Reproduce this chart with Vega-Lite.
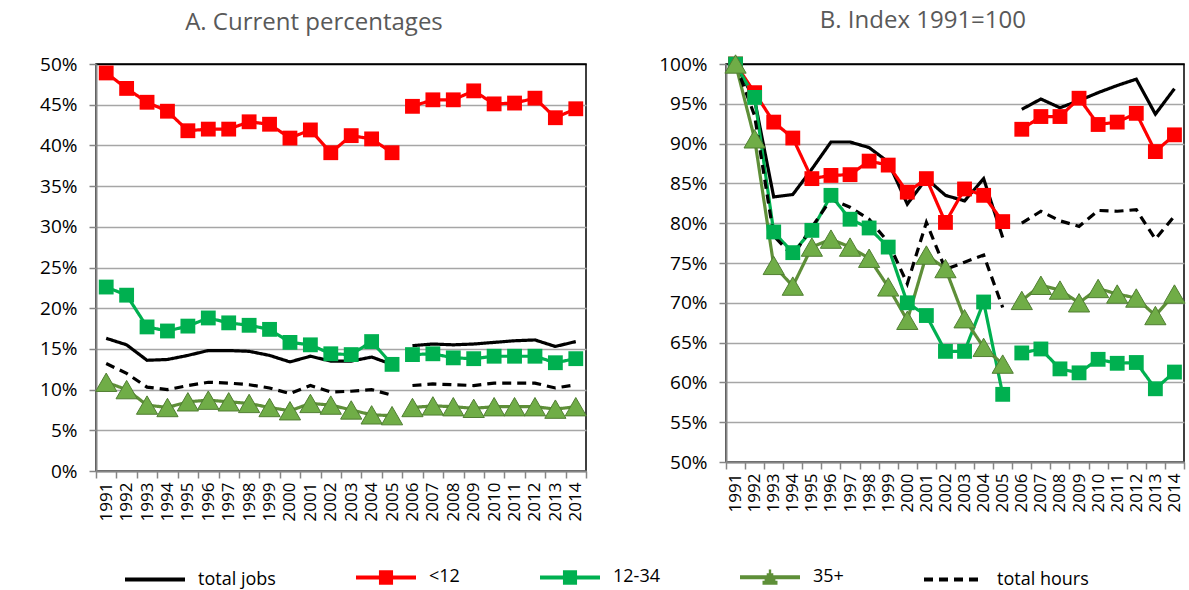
{
"$schema": "https://vega.github.io/schema/vega-lite/v6.json",
"background": "white",
"padding": {"left": 38, "top": 8, "right": 0, "bottom": 0},
"config": {
  "font": "Open Sans",
  "view": {"stroke": "black", "strokeWidth": 1.5},
  "title": {"fontSize": 24, "fontWeight": "normal", "color": "#595959", "offset": 20, "frame": "bounds", "anchor": "middle"},
  "axis": {"labelColor": "#000000", "title": null, "domainColor": "#868686", "domainWidth": 2, "tickColor": "#868686", "tickWidth": 1.5, "tickSize": 7},
  "legend": {"labelFontSize": 18, "labelColor": "#000000", "layout": {"bottom": {"anchor": "middle"}}}
},
"spacing": 67,
"datasets": {
"A": [
{"s":"total jobs","y":"1991","g":1,"v":16.3},{"s":"total jobs","y":"1992","g":1,"v":15.5},{"s":"total jobs","y":"1993","g":1,"v":13.6},{"s":"total jobs","y":"1994","g":1,"v":13.7},{"s":"total jobs","y":"1995","g":1,"v":14.2},{"s":"total jobs","y":"1996","g":1,"v":14.8},{"s":"total jobs","y":"1997","g":1,"v":14.8},{"s":"total jobs","y":"1998","g":1,"v":14.7},{"s":"total jobs","y":"1999","g":1,"v":14.2},{"s":"total jobs","y":"2000","g":1,"v":13.4},{"s":"total jobs","y":"2001","g":1,"v":14.1},{"s":"total jobs","y":"2002","g":1,"v":13.5},{"s":"total jobs","y":"2003","g":1,"v":13.5},{"s":"total jobs","y":"2004","g":1,"v":14.0},{"s":"total jobs","y":"2005","g":1,"v":13.1},{"s":"total jobs","y":"2006","g":2,"v":15.4},{"s":"total jobs","y":"2007","g":2,"v":15.6},{"s":"total jobs","y":"2008","g":2,"v":15.5},{"s":"total jobs","y":"2009","g":2,"v":15.6},{"s":"total jobs","y":"2010","g":2,"v":15.8},{"s":"total jobs","y":"2011","g":2,"v":16.0},{"s":"total jobs","y":"2012","g":2,"v":16.1},{"s":"total jobs","y":"2013","g":2,"v":15.3},{"s":"total jobs","y":"2014","g":2,"v":15.9},
{"s":"<12","y":"1991","g":1,"v":48.9},{"s":"<12","y":"1992","g":1,"v":47.0},{"s":"<12","y":"1993","g":1,"v":45.3},{"s":"<12","y":"1994","g":1,"v":44.2},{"s":"<12","y":"1995","g":1,"v":41.8},{"s":"<12","y":"1996","g":1,"v":42.0},{"s":"<12","y":"1997","g":1,"v":42.0},{"s":"<12","y":"1998","g":1,"v":42.9},{"s":"<12","y":"1999","g":1,"v":42.6},{"s":"<12","y":"2000","g":1,"v":40.9},{"s":"<12","y":"2001","g":1,"v":41.9},{"s":"<12","y":"2002","g":1,"v":39.1},{"s":"<12","y":"2003","g":1,"v":41.2},{"s":"<12","y":"2004","g":1,"v":40.8},{"s":"<12","y":"2005","g":1,"v":39.1},{"s":"<12","y":"2006","g":2,"v":44.8},{"s":"<12","y":"2007","g":2,"v":45.6},{"s":"<12","y":"2008","g":2,"v":45.6},{"s":"<12","y":"2009","g":2,"v":46.7},{"s":"<12","y":"2010","g":2,"v":45.1},{"s":"<12","y":"2011","g":2,"v":45.2},{"s":"<12","y":"2012","g":2,"v":45.8},{"s":"<12","y":"2013","g":2,"v":43.4},{"s":"<12","y":"2014","g":2,"v":44.5},
{"s":"12-34","y":"1991","g":1,"v":22.6},{"s":"12-34","y":"1992","g":1,"v":21.6},{"s":"12-34","y":"1993","g":1,"v":17.7},{"s":"12-34","y":"1994","g":1,"v":17.2},{"s":"12-34","y":"1995","g":1,"v":17.8},{"s":"12-34","y":"1996","g":1,"v":18.8},{"s":"12-34","y":"1997","g":1,"v":18.2},{"s":"12-34","y":"1998","g":1,"v":17.9},{"s":"12-34","y":"1999","g":1,"v":17.4},{"s":"12-34","y":"2000","g":1,"v":15.8},{"s":"12-34","y":"2001","g":1,"v":15.5},{"s":"12-34","y":"2002","g":1,"v":14.4},{"s":"12-34","y":"2003","g":1,"v":14.3},{"s":"12-34","y":"2004","g":1,"v":15.9},{"s":"12-34","y":"2005","g":1,"v":13.1},{"s":"12-34","y":"2006","g":2,"v":14.3},{"s":"12-34","y":"2007","g":2,"v":14.4},{"s":"12-34","y":"2008","g":2,"v":13.9},{"s":"12-34","y":"2009","g":2,"v":13.8},{"s":"12-34","y":"2010","g":2,"v":14.1},{"s":"12-34","y":"2011","g":2,"v":14.1},{"s":"12-34","y":"2012","g":2,"v":14.1},{"s":"12-34","y":"2013","g":2,"v":13.3},{"s":"12-34","y":"2014","g":2,"v":13.8},
{"s":"35+","y":"1991","g":1,"v":10.9},{"s":"35+","y":"1992","g":1,"v":10.0},{"s":"35+","y":"1993","g":1,"v":8.1},{"s":"35+","y":"1994","g":1,"v":7.8},{"s":"35+","y":"1995","g":1,"v":8.5},{"s":"35+","y":"1996","g":1,"v":8.7},{"s":"35+","y":"1997","g":1,"v":8.5},{"s":"35+","y":"1998","g":1,"v":8.3},{"s":"35+","y":"1999","g":1,"v":7.8},{"s":"35+","y":"2000","g":1,"v":7.4},{"s":"35+","y":"2001","g":1,"v":8.3},{"s":"35+","y":"2002","g":1,"v":8.1},{"s":"35+","y":"2003","g":1,"v":7.5},{"s":"35+","y":"2004","g":1,"v":6.9},{"s":"35+","y":"2005","g":1,"v":6.8},{"s":"35+","y":"2006","g":2,"v":7.8},{"s":"35+","y":"2007","g":2,"v":8.0},{"s":"35+","y":"2008","g":2,"v":7.9},{"s":"35+","y":"2009","g":2,"v":7.7},{"s":"35+","y":"2010","g":2,"v":7.9},{"s":"35+","y":"2011","g":2,"v":7.9},{"s":"35+","y":"2012","g":2,"v":7.9},{"s":"35+","y":"2013","g":2,"v":7.6},{"s":"35+","y":"2014","g":2,"v":7.9},
{"s":"total hours","y":"1991","g":1,"v":13.2},{"s":"total hours","y":"1992","g":1,"v":12.0},{"s":"total hours","y":"1993","g":1,"v":10.3},{"s":"total hours","y":"1994","g":1,"v":10.0},{"s":"total hours","y":"1995","g":1,"v":10.5},{"s":"total hours","y":"1996","g":1,"v":10.9},{"s":"total hours","y":"1997","g":1,"v":10.8},{"s":"total hours","y":"1998","g":1,"v":10.6},{"s":"total hours","y":"1999","g":1,"v":10.2},{"s":"total hours","y":"2000","g":1,"v":9.5},{"s":"total hours","y":"2001","g":1,"v":10.5},{"s":"total hours","y":"2002","g":1,"v":9.7},{"s":"total hours","y":"2003","g":1,"v":9.8},{"s":"total hours","y":"2004","g":1,"v":10.0},{"s":"total hours","y":"2005","g":1,"v":9.3},{"s":"total hours","y":"2006","g":2,"v":10.5},{"s":"total hours","y":"2007","g":2,"v":10.7},{"s":"total hours","y":"2008","g":2,"v":10.6},{"s":"total hours","y":"2009","g":2,"v":10.5},{"s":"total hours","y":"2010","g":2,"v":10.8},{"s":"total hours","y":"2011","g":2,"v":10.8},{"s":"total hours","y":"2012","g":2,"v":10.8},{"s":"total hours","y":"2013","g":2,"v":10.2},{"s":"total hours","y":"2014","g":2,"v":10.6}
],
"B": [
{"s":"total jobs","y":"1991","g":1,"v":100},{"s":"total jobs","y":"1992","g":1,"v":95.5},{"s":"total jobs","y":"1993","g":1,"v":83.3},{"s":"total jobs","y":"1994","g":1,"v":83.6},{"s":"total jobs","y":"1995","g":1,"v":86.8},{"s":"total jobs","y":"1996","g":1,"v":90.2},{"s":"total jobs","y":"1997","g":1,"v":90.2},{"s":"total jobs","y":"1998","g":1,"v":89.5},{"s":"total jobs","y":"1999","g":1,"v":87.7},{"s":"total jobs","y":"2000","g":1,"v":82.4},{"s":"total jobs","y":"2001","g":1,"v":85.6},{"s":"total jobs","y":"2002","g":1,"v":83.5},{"s":"total jobs","y":"2003","g":1,"v":82.8},{"s":"total jobs","y":"2004","g":1,"v":85.6},{"s":"total jobs","y":"2005","g":1,"v":78.2},{"s":"total jobs","y":"2006","g":2,"v":94.3},{"s":"total jobs","y":"2007","g":2,"v":95.6},{"s":"total jobs","y":"2008","g":2,"v":94.5},{"s":"total jobs","y":"2009","g":2,"v":95.4},{"s":"total jobs","y":"2010","g":2,"v":96.4},{"s":"total jobs","y":"2011","g":2,"v":97.3},{"s":"total jobs","y":"2012","g":2,"v":98.1},{"s":"total jobs","y":"2013","g":2,"v":93.7},{"s":"total jobs","y":"2014","g":2,"v":96.9},
{"s":"<12","y":"1991","g":1,"v":100},{"s":"<12","y":"1992","g":1,"v":96.4},{"s":"<12","y":"1993","g":1,"v":92.7},{"s":"<12","y":"1994","g":1,"v":90.7},{"s":"<12","y":"1995","g":1,"v":85.6},{"s":"<12","y":"1996","g":1,"v":86.0},{"s":"<12","y":"1997","g":1,"v":86.1},{"s":"<12","y":"1998","g":1,"v":87.8},{"s":"<12","y":"1999","g":1,"v":87.3},{"s":"<12","y":"2000","g":1,"v":83.9},{"s":"<12","y":"2001","g":1,"v":85.6},{"s":"<12","y":"2002","g":1,"v":80.1},{"s":"<12","y":"2003","g":1,"v":84.3},{"s":"<12","y":"2004","g":1,"v":83.5},{"s":"<12","y":"2005","g":1,"v":80.2},{"s":"<12","y":"2006","g":2,"v":91.8},{"s":"<12","y":"2007","g":2,"v":93.4},{"s":"<12","y":"2008","g":2,"v":93.4},{"s":"<12","y":"2009","g":2,"v":95.7},{"s":"<12","y":"2010","g":2,"v":92.4},{"s":"<12","y":"2011","g":2,"v":92.7},{"s":"<12","y":"2012","g":2,"v":93.8},{"s":"<12","y":"2013","g":2,"v":89.0},{"s":"<12","y":"2014","g":2,"v":91.1},
{"s":"12-34","y":"1991","g":1,"v":100},{"s":"12-34","y":"1992","g":1,"v":95.8},{"s":"12-34","y":"1993","g":1,"v":78.9},{"s":"12-34","y":"1994","g":1,"v":76.3},{"s":"12-34","y":"1995","g":1,"v":79.1},{"s":"12-34","y":"1996","g":1,"v":83.5},{"s":"12-34","y":"1997","g":1,"v":80.5},{"s":"12-34","y":"1998","g":1,"v":79.4},{"s":"12-34","y":"1999","g":1,"v":77.0},{"s":"12-34","y":"2000","g":1,"v":70.0},{"s":"12-34","y":"2001","g":1,"v":68.4},{"s":"12-34","y":"2002","g":1,"v":63.9},{"s":"12-34","y":"2003","g":1,"v":63.9},{"s":"12-34","y":"2004","g":1,"v":70.1},{"s":"12-34","y":"2005","g":1,"v":58.5},{"s":"12-34","y":"2006","g":2,"v":63.7},{"s":"12-34","y":"2007","g":2,"v":64.2},{"s":"12-34","y":"2008","g":2,"v":61.7},{"s":"12-34","y":"2009","g":2,"v":61.2},{"s":"12-34","y":"2010","g":2,"v":62.9},{"s":"12-34","y":"2011","g":2,"v":62.4},{"s":"12-34","y":"2012","g":2,"v":62.5},{"s":"12-34","y":"2013","g":2,"v":59.2},{"s":"12-34","y":"2014","g":2,"v":61.3},
{"s":"35+","y":"1991","g":1,"v":100},{"s":"35+","y":"1992","g":1,"v":90.6},{"s":"35+","y":"1993","g":1,"v":74.7},{"s":"35+","y":"1994","g":1,"v":72.1},{"s":"35+","y":"1995","g":1,"v":77.0},{"s":"35+","y":"1996","g":1,"v":78.0},{"s":"35+","y":"1997","g":1,"v":77.0},{"s":"35+","y":"1998","g":1,"v":75.6},{"s":"35+","y":"1999","g":1,"v":72.0},{"s":"35+","y":"2000","g":1,"v":67.8},{"s":"35+","y":"2001","g":1,"v":76.0},{"s":"35+","y":"2002","g":1,"v":74.3},{"s":"35+","y":"2003","g":1,"v":68.0},{"s":"35+","y":"2004","g":1,"v":64.4},{"s":"35+","y":"2005","g":1,"v":62.3},{"s":"35+","y":"2006","g":2,"v":70.3},{"s":"35+","y":"2007","g":2,"v":72.2},{"s":"35+","y":"2008","g":2,"v":71.6},{"s":"35+","y":"2009","g":2,"v":70.0},{"s":"35+","y":"2010","g":2,"v":71.8},{"s":"35+","y":"2011","g":2,"v":71.1},{"s":"35+","y":"2012","g":2,"v":70.6},{"s":"35+","y":"2013","g":2,"v":68.4},{"s":"35+","y":"2014","g":2,"v":71.1},
{"s":"total hours","y":"1991","g":1,"v":100},{"s":"total hours","y":"1992","g":1,"v":93.5},{"s":"total hours","y":"1993","g":1,"v":78.4},{"s":"total hours","y":"1994","g":1,"v":75.9},{"s":"total hours","y":"1995","g":1,"v":79.5},{"s":"total hours","y":"1996","g":1,"v":83.0},{"s":"total hours","y":"1997","g":1,"v":82.0},{"s":"total hours","y":"1998","g":1,"v":80.5},{"s":"total hours","y":"1999","g":1,"v":77.6},{"s":"total hours","y":"2000","g":1,"v":72.4},{"s":"total hours","y":"2001","g":1,"v":80.1},{"s":"total hours","y":"2002","g":1,"v":74.2},{"s":"total hours","y":"2003","g":1,"v":75.1},{"s":"total hours","y":"2004","g":1,"v":76.0},{"s":"total hours","y":"2005","g":1,"v":69.4},{"s":"total hours","y":"2006","g":2,"v":80.0},{"s":"total hours","y":"2007","g":2,"v":81.5},{"s":"total hours","y":"2008","g":2,"v":80.3},{"s":"total hours","y":"2009","g":2,"v":79.6},{"s":"total hours","y":"2010","g":2,"v":81.6},{"s":"total hours","y":"2011","g":2,"v":81.5},{"s":"total hours","y":"2012","g":2,"v":81.7},{"s":"total hours","y":"2013","g":2,"v":78.0},{"s":"total hours","y":"2014","g":2,"v":80.9}
]
},
"hconcat": [
{
  "title": "A. Current percentages",
  "width": 490, "height": 407,
  "data": {"name": "A"},
  "encoding": {
    "x": {"field": "y", "type": "ordinal", "scale": {"type": "band", "paddingInner": 0, "paddingOuter": 0},
          "axis": {"labelAngle": 270, "labelFontSize": 17, "labelPadding": 4, "tickBand": "extent", "grid": false}},
    "y": {"field": "v", "type": "quantitative", "scale": {"domain": [0, 50], "nice": false},
          "axis": {"values": [0,5,10,15,20,25,30,35,40,45,50], "labelExpr": "datum.value + '%'", "labelFontSize": 19, "labelPadding": 12, "grid": true, "gridWidth": 1.5,
                   "gridColor": {"condition": {"test": "datum.value >= 50", "value": "#000000"}, "value": "#a6a6a6"}}}
  },
  "layer": [
    {
      "mark": {"type": "line", "strokeWidth": 3.2},
      "encoding": {
        "color": {"field": "s", "type": "nominal", "title": null,
                  "scale": {"domain": ["total jobs", "<12", "12-34", "35+", "total hours"], "range": ["#000000", "#ff0000", "#00b050", "#5e8f38", "#000000"]},
                  "legend": {"orient": "bottom", "direction": "horizontal", "symbolType": "M-2,0H2", "symbolSize": 900, "symbolStrokeWidth": 4, "symbolFillColor": "transparent", "columnPadding": 72, "labelOffset": 26, "offset": 38}},
        "strokeDash": {"field": "s", "type": "nominal", "title": null,
                  "scale": {"domain": ["total jobs", "<12", "12-34", "35+", "total hours"], "range": [[1,0],[1,0],[1,0],[1,0],[9,6]]}},
        "detail": {"field": "g"}
      }
    },
    {
      "transform": [{"filter": {"field": "s", "oneOf": ["<12", "12-34"]}}],
      "mark": {"type": "point", "shape": "square", "filled": true, "opacity": 1, "size": 220},
      "encoding": {
        "fill": {"field": "s", "type": "nominal", "legend": null, "scale": {"domain": ["<12", "12-34"], "range": ["#ff0000", "#00b050"]}}
      }
    },
    {
      "transform": [{"filter": {"field": "s", "equal": "35+"}}],
      "mark": {"type": "point", "shape": "triangle-up", "filled": true, "opacity": 1, "size": 450, "fill": "#70ad47", "stroke": "#507e32", "strokeWidth": 1}
    },
    {
      "transform": [{"filter": "false"}],
      "mark": {"type": "point", "filled": false, "opacity": 1},
      "encoding": {
        "shape": {"field": "s", "type": "nominal", "title": null,
                  "scale": {"domain": ["total jobs", "<12", "12-34", "35+", "total hours"],
                            "range": ["M-2,0H2", "M-2,0H2M-0.47,-0.35H0.47M-0.47,-0.12H0.47M-0.47,0.12H0.47M-0.47,0.35H0.47", "M-2,0H2M-0.47,-0.35H0.47M-0.47,-0.12H0.47M-0.47,0.12H0.47M-0.47,0.35H0.47", "M-2,0H2M-0.5,0.38H0.5M-0.36,0.13H0.36M-0.22,-0.12H0.22M-0.08,-0.37H0.08", "M-2,0H2"]},
                  "legend": {"orient": "bottom", "direction": "horizontal", "symbolSize": 900, "symbolStrokeWidth": 4, "symbolFillColor": "transparent", "columnPadding": 72, "labelOffset": 26, "offset": 38}}
      }
    }
  ]
},
{
  "title": "B. Index 1991=100",
  "width": 458, "height": 398,
  "data": {"name": "B"},
  "encoding": {
    "x": {"field": "y", "type": "ordinal", "scale": {"type": "band", "paddingInner": 0, "paddingOuter": 0},
          "axis": {"labelAngle": 270, "labelFontSize": 17, "labelPadding": 4, "tickBand": "extent", "grid": false}},
    "y": {"field": "v", "type": "quantitative", "scale": {"domain": [50, 100], "nice": false},
          "axis": {"values": [50,55,60,65,70,75,80,85,90,95,100], "labelExpr": "datum.value + '%'", "labelFontSize": 19, "labelPadding": 12, "grid": true, "gridWidth": 1.5,
                   "gridColor": {"condition": {"test": "datum.value >= 100", "value": "#000000"}, "value": "#a6a6a6"}}}
  },
  "layer": [
    {
      "mark": {"type": "line", "strokeWidth": 3.2},
      "encoding": {
        "color": {"field": "s", "type": "nominal", "title": null,
                  "scale": {"domain": ["total jobs", "<12", "12-34", "35+", "total hours"], "range": ["#000000", "#ff0000", "#00b050", "#5e8f38", "#000000"]},
                  "legend": {"orient": "bottom", "direction": "horizontal", "symbolType": "M-2,0H2", "symbolSize": 900, "symbolStrokeWidth": 4, "symbolFillColor": "transparent", "columnPadding": 72, "labelOffset": 26, "offset": 38}},
        "strokeDash": {"field": "s", "type": "nominal", "title": null,
                  "scale": {"domain": ["total jobs", "<12", "12-34", "35+", "total hours"], "range": [[1,0],[1,0],[1,0],[1,0],[9,6]]}},
        "detail": {"field": "g"}
      }
    },
    {
      "transform": [{"filter": {"field": "s", "oneOf": ["<12", "12-34"]}}],
      "mark": {"type": "point", "shape": "square", "filled": true, "opacity": 1, "size": 220},
      "encoding": {
        "fill": {"field": "s", "type": "nominal", "legend": null, "scale": {"domain": ["<12", "12-34"], "range": ["#ff0000", "#00b050"]}}
      }
    },
    {
      "transform": [{"filter": {"field": "s", "equal": "35+"}}],
      "mark": {"type": "point", "shape": "triangle-up", "filled": true, "opacity": 1, "size": 450, "fill": "#70ad47", "stroke": "#507e32", "strokeWidth": 1}
    }
  ]
}
],
"resolve": {"scale": {"color": "shared", "strokeDash": "shared", "shape": "shared"}, "legend": {"color": "shared", "strokeDash": "shared", "shape": "shared"}}
}
